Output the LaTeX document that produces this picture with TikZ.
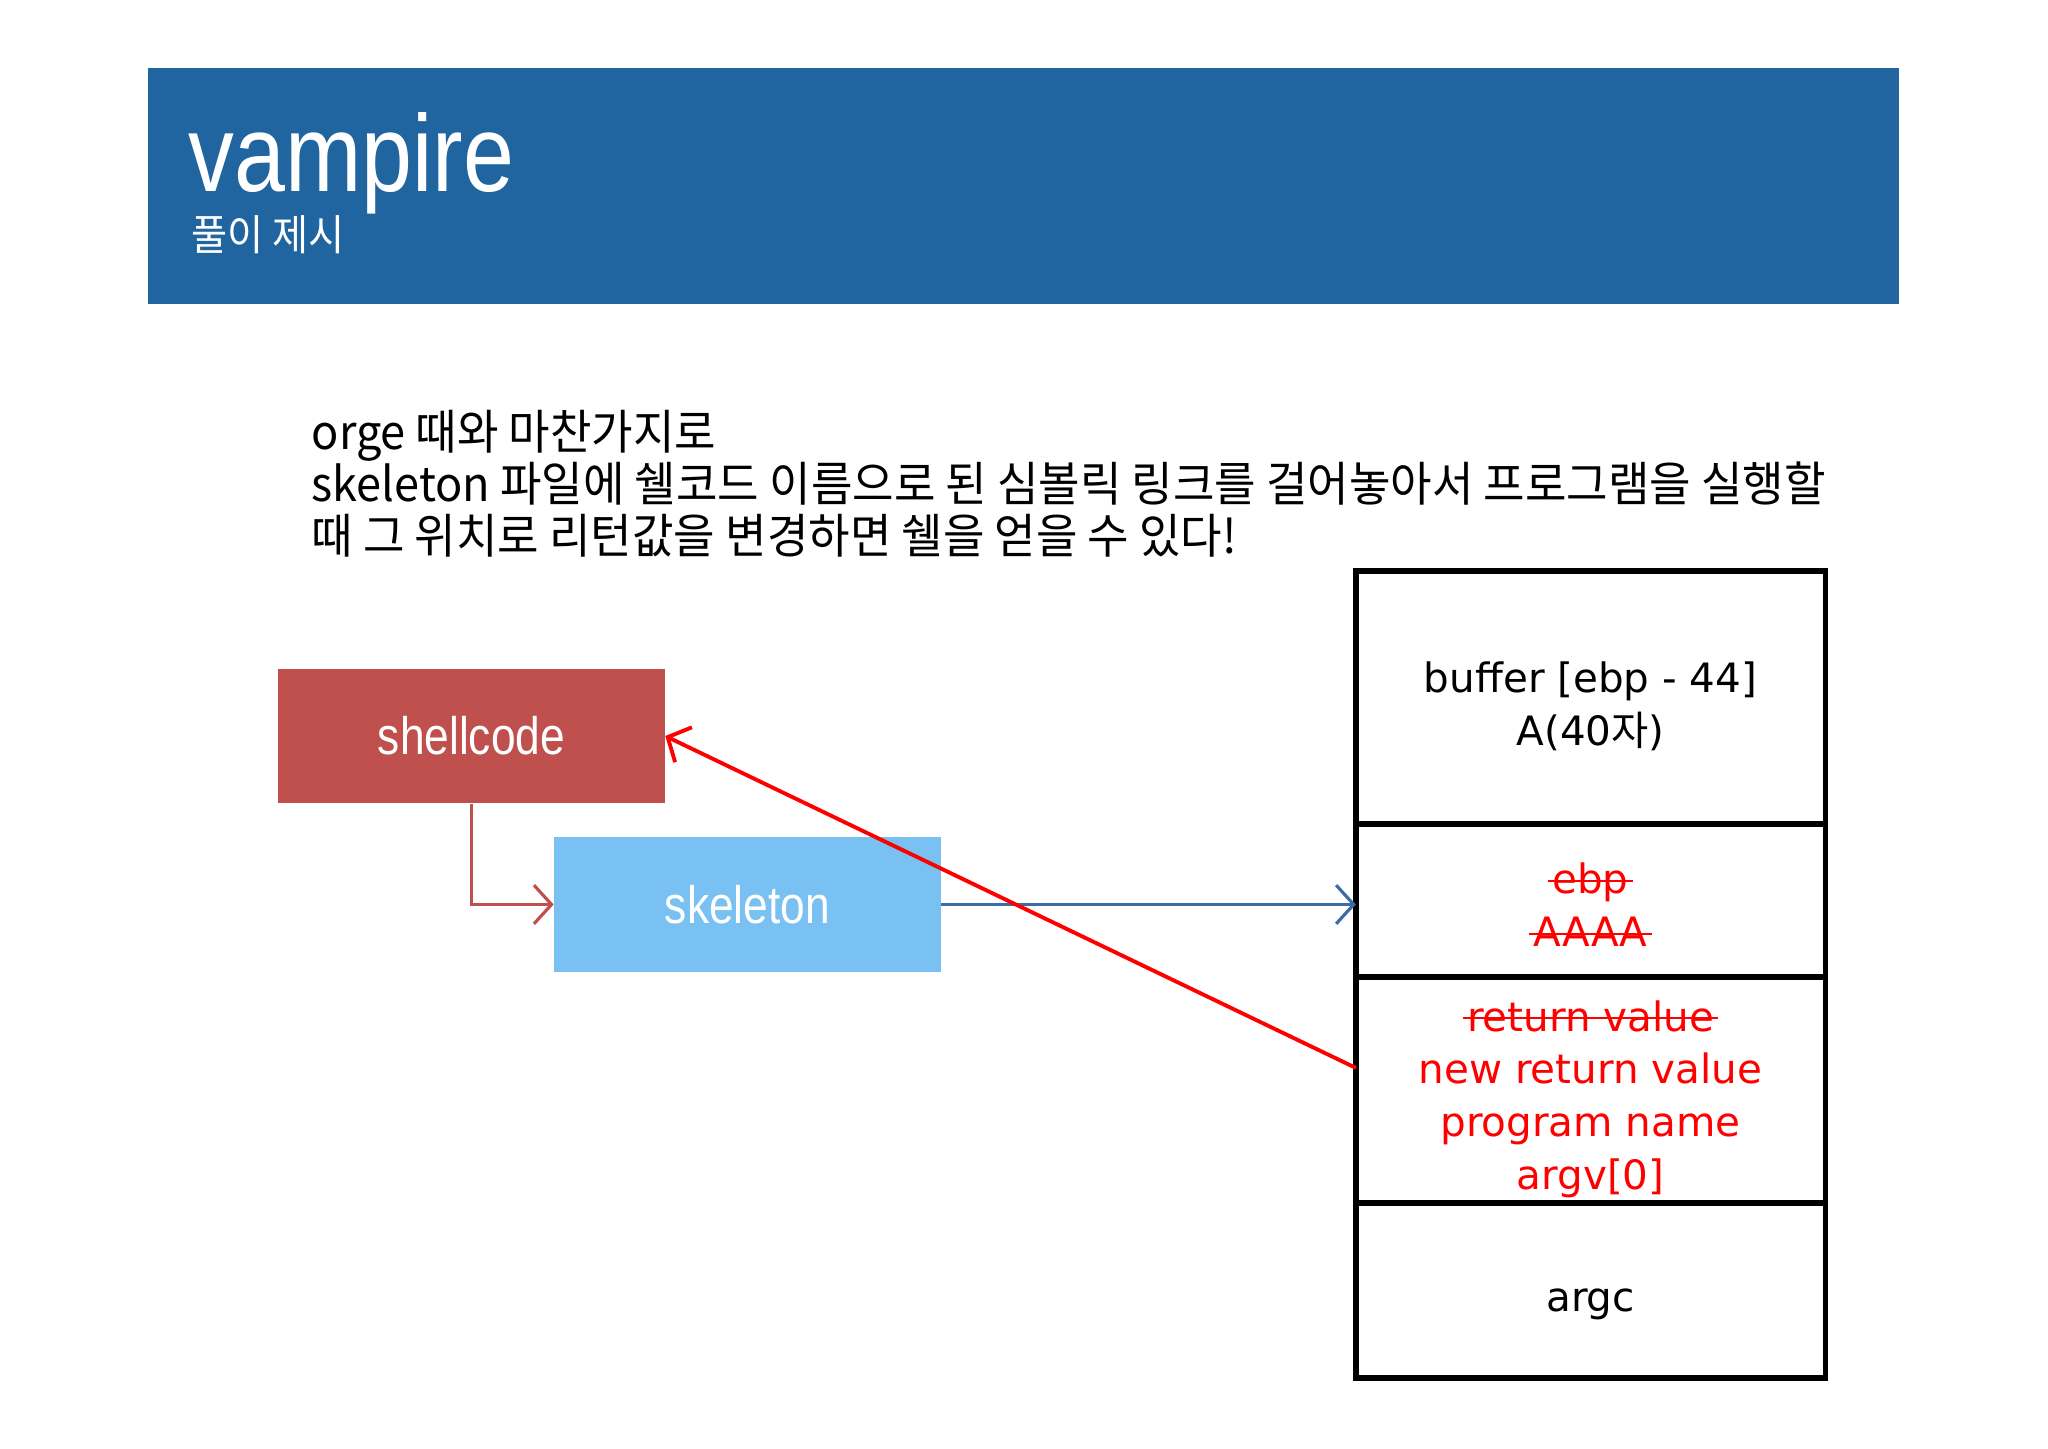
\documentclass[tikz,border=0pt]{standalone}
\usepackage{fontspec}
\usepackage{xcolor}
\usepackage{tikz}
\usetikzlibrary{arrows.meta}
\setmainfont{Liberation Sans}[FakeStretch=0.84]
\newfontfamily\kofont{Noto Sans CJK KR}[FakeStretch=0.95]
\newfontfamily\kosub{Noto Sans CJK KR}[FakeStretch=0.93]
\newfontfamily\kowide{Noto Sans CJK KR}
\newfontfamily\stackfont{DejaVu Sans}
\definecolor{headblue}{HTML}{2064A0}
\definecolor{shellred}{HTML}{C0504D}
\definecolor{skelblue}{HTML}{79C1F2}
\definecolor{linkblue}{HTML}{3D6BA6}
\newcommand\crossout[1]{{\setbox0\hbox{#1}\rlap{\kern-0.1em\rule[0.3em]{\dimexpr\wd0+0.2em}{0.6pt}}\box0}}

\begin{document}
\begin{tikzpicture}[x=0.01cm,y=-0.01cm,
  cell/.style={draw,line width=1.5pt,minimum width=4.69cm,inner sep=0pt,outer sep=0pt},
  celltext/.style={inner sep=0pt,align=center,font=\stackfont\fontsize{11.5}{15}\selectfont},
  box/.style={minimum width=3.86cm,minimum height=1.34cm,inner sep=0pt,text=white,font=\fontsize{15}{18}\selectfont},
  tip/.style={-{Straight Barb[length=5pt,width=11pt]}}]
\useasboundingbox[fill=white](0,0)rectangle(2048,1449);
\fill[headblue](148,68)rectangle(1899,304);
\node[anchor=base west,inner sep=0pt,text=white,font=\fontsize{31}{37}\selectfont](ttl)at(188,192){vampire};
\node[anchor=base west,inner sep=0pt,text=white,font=\kosub\fontsize{12}{14}\selectfont](sub)at(191,251){풀이 제시};
\node[anchor=west,inner sep=0pt,align=left,font=\kofont\fontsize{13.5}{14.8}\selectfont](txt)at(311,484){orge 때와 마찬가지로\\
skeleton 파일에 쉘코드 이름으로 된 심볼릭 링크를 걸어놓아서 프로그램을 실행할\\
때 그 위치로 리턴값을 변경하면 쉘을 얻을 수 있다!};
\node[box,fill=shellred](shell)at(471.5,736){shellcode};
\node[box,fill=skelblue](skel)at(747.5,904.5){skeleton};
% stack frame
\node[cell,minimum height=2.53cm](buf)at(1590.5,697.5){};
\node[cell,minimum height=1.53cm](ebp)at(1590.5,900.5){};
\node[cell,minimum height=2.26cm](ret)at(1590.5,1090){};
\node[cell,minimum height=1.75cm](argc)at(1590.5,1290.5){};
\node[celltext](buftxt)at(1590.5,706){buffer [ebp - 44]\\A(40{\kowide 자})};
\node[celltext,text=red](ebptxt)at(1590.5,905){\crossout{ebp}\\\crossout{AAAA}};
\node[celltext,text=red](rettxt)at(1590.5,1099){\crossout{return value}\\new return value\\program name\\argv[0]};
\node[celltext](argctxt)at(1590.5,1304){argc};
\coordinate(hit)at(1356,1068);
\draw[tip,shellred,line width=0.9pt](shell.south)|-(skel.west);
\draw[tip,linkblue,line width=0.9pt](skel.east)--(skel.east-|ebp.west);
\draw[tip,red,line width=1.1pt](hit)--(shell.east);
\end{tikzpicture}
\end{document}
